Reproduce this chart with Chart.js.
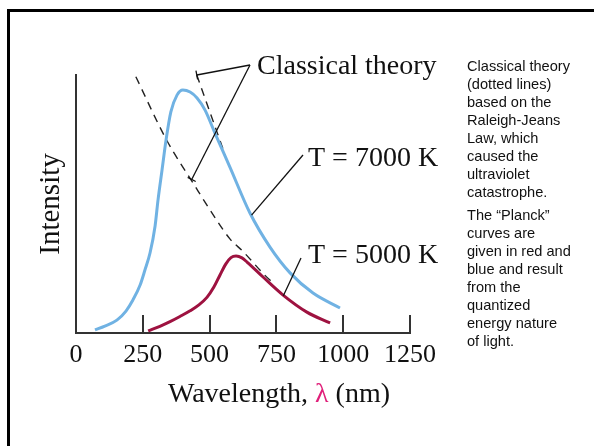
<!DOCTYPE html>
<html>
<head>
<meta charset="utf-8">
<script src="https://cdn.jsdelivr.net/npm/chart.js@4.4.1/dist/chart.umd.min.js"></script>
<style>
  html, body { margin: 0; padding: 0; background: #fff; }
  body { width: 594px; height: 446px; position: relative; overflow: hidden; }
  #frame { position: absolute; left: 7px; top: 9px; width: 620px; height: 460px;
           border-top: 3px solid #000; border-left: 3px solid #000; }
  #chart { position: absolute; left: 0; top: 0; }
  #notes { position: absolute; left: 467px; top: 57px; color: #111;
           font-family: 'Liberation Sans', Arial, sans-serif; font-size: 14.6px;
           line-height: 18px; white-space: nowrap; }
  #notes p { margin: 0 0 5px 0; }
</style>
</head>
<body>
<div id="frame"></div>
<canvas id="chart" width="594" height="446"></canvas>
<div id="notes">
  <p>Classical theory<br>(dotted lines)<br>based on the<br>Raleigh-Jeans<br>Law, which<br>caused the<br>ultraviolet<br>catastrophe.</p>
  <p>The “Planck”<br>curves are<br>given in red and<br>blue and result<br>from the<br>quantized<br>energy nature<br>of light.</p>
</div>
<script>
// eje x (nm)
const xTicks = [0, 250, 500, 750, 1000, 1250];

// curva de Planck T = 7000 K (azul)
const blueNm = [71, 108, 153, 187, 213, 240, 258, 277, 296, 307, 322, 337, 355, 378, 400, 427, 453, 483, 520, 576, 651, 726, 801, 887, 988];
const blueI  = [1.2, 2.7, 5, 8.5, 12.8, 18.6, 24.4, 31, 41.5, 51.6, 63.2, 74.8, 85.7, 92.2, 94.2, 93.4, 91.1, 86.4, 77.5, 64.3, 46.5, 33.3, 23.3, 15.5, 9.7];

// curva de Planck T = 5000 K (rojo)
const redNm = [270, 314, 352, 389, 427, 460, 490, 516, 539, 561, 580, 599, 621, 640, 700, 775, 864, 951];
const redI  = [0.8, 2.6, 4.4, 6.4, 8.6, 10.9, 13.8, 17.8, 22.5, 26.8, 29.2, 29.8, 29.1, 27.5, 21.7, 14.7, 8.1, 3.9];

// teoría clásica (líneas punteadas)
const rj5000Nm = [224, 339, 439, 526, 576, 626, 701, 738];
const rj5000I  = [99.3, 74.8, 58, 43.8, 36.5, 31.5, 23, 19.3];
const rj7000Nm = [452, 505, 558];
const rj7000I  = [100, 84.5, 69];

// etiquetas
const labelTexts = ['Classical theory', 'T = 7000 K', 'T = 5000 K'];
const xTitle = ['Wavelength, ', 'λ', ' (nm)'];
const yTitle = 'Intensity';

const serif = "'Liberation Serif', 'Times New Roman', serif";

function pts(xs, ys) {
    return xs.map((v, i) => ({x: v, y: ys[i]}));
}

// dibuja anotaciones, líneas guía y el título del eje x
const overlay = {
    id: 'overlay',
    afterDraw(chart) {
        const {ctx, scales: {x, y}} = chart;
        const px = (nm, v) => [x.getPixelForValue(nm), y.getPixelForValue(v)];
        ctx.save();
        ctx.strokeStyle = '#111';
        ctx.lineWidth = 1.3;

        function leader(from, to, cap) {
            ctx.beginPath();
            ctx.moveTo(from[0], from[1]);
            ctx.lineTo(to[0], to[1]);
            ctx.stroke();
            if (cap) {
                const dx = to[0] - from[0], dy = to[1] - from[1];
                const len = Math.hypot(dx, dy);
                const nx = -dy / len * 4.5, ny = dx / len * 4.5;
                ctx.beginPath();
                ctx.moveTo(to[0] - nx, to[1] - ny);
                ctx.lineTo(to[0] + nx, to[1] + ny);
                ctx.stroke();
            }
        }

        const vertex = [250, 65];
        leader(vertex, px(rj7000Nm[0], rj7000I[0]), true);
        leader(vertex, px(433, 59.5), true);
        leader([303, 155], px(657, 45.7), false);
        leader([301, 258], px(776, 14.4), false);

        ctx.fillStyle = '#111';
        ctx.font = '28px ' + serif;
        ctx.textBaseline = 'alphabetic';
        ctx.fillText(labelTexts[0], 257, 74);
        ctx.fillText(labelTexts[1], 308, 166);
        ctx.fillText(labelTexts[2], 308, 263);

        // título del eje x con lambda en color
        const colors = ['#111', '#e0207a', '#111'];
        let total = 0;
        xTitle.forEach(t => total += ctx.measureText(t).width);
        let cx = 279 - total / 2;
        xTitle.forEach((t, i) => {
            ctx.fillStyle = colors[i];
            ctx.fillText(t, cx, 402);
            cx += ctx.measureText(t).width;
        });
        ctx.restore();
    }
};

const ctx = document.getElementById('chart').getContext('2d');
new Chart(ctx, {
    type: 'line',
    data: {
        datasets: [
            {data: pts(blueNm, blueI), borderColor: '#70b2e3', borderWidth: 3},
            {data: pts(redNm, redI), borderColor: '#9e1240', borderWidth: 3},
            {data: pts(rj5000Nm, rj5000I), borderColor: '#222', borderWidth: 1.4, borderDash: [8, 6]},
            {data: pts(rj7000Nm, rj7000I), borderColor: '#222', borderWidth: 1.4, borderDash: [8, 6]}
        ]
    },
    options: {
        responsive: false,
        animation: false,
        devicePixelRatio: 1,
        layout: {padding: {top: 75, right: 184, left: 0, bottom: 0}},
        elements: {
            point: {radius: 0},
            line: {cubicInterpolationMode: 'monotone', fill: false}
        },
        plugins: {legend: {display: false}, tooltip: {enabled: false}},
        scales: {
            x: {
                type: 'linear',
                min: 0,
                max: 1250,
                afterBuildTicks: s => { s.ticks = xTicks.map(v => ({value: v})); },
                afterFit: s => { s.height = 113; },
                ticks: {color: '#111', padding: 25, font: {family: serif, size: 26},
                        callback: v => String(v)},
                grid: {drawOnChartArea: false, drawTicks: true, tickLength: -18, color: '#333', lineWidth: 2},
                border: {color: '#333', width: 2}
            },
            y: {
                min: 0,
                max: 100,
                afterFit: s => { s.width = 76; },
                ticks: {display: false},
                grid: {display: false},
                border: {color: '#333', width: 2},
                title: {display: true, text: yTitle, color: '#111', padding: {top: 34, bottom: 0},
                        font: {family: serif, size: 29}}
            }
        }
    },
    plugins: [overlay]
});
</script>
</body>
</html>
